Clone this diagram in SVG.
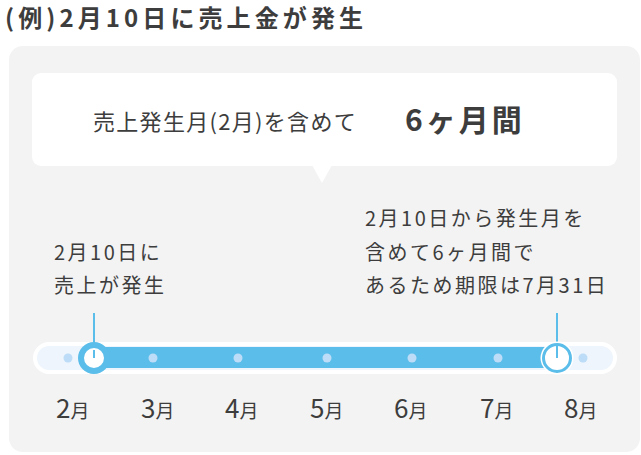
<svg xmlns="http://www.w3.org/2000/svg" width="641" height="455" viewBox="0 0 641 455">
<style>
.t{font-family:"Noto Sans CJK JP","Noto Sans",sans-serif;fill:#3d3d3d}
.note{font-size:20px;letter-spacing:2.5px}
.dig{font-size:26px}
.mo{font-size:19px}
.dot{fill:#bcdcf7}
.blue{fill:#5bbde9}
</style>
<rect width="641" height="455" fill="#ffffff"/>
<text class="t" x="5" y="27" font-size="24" font-weight="bold" letter-spacing="4.1">(例)2月10日に売上金が発生</text>
<rect x="9" y="46" width="631" height="406" rx="14" fill="#f3f3f3"/>
<g id="callout">
<rect x="32" y="73" width="585" height="93" rx="9" fill="#ffffff"/>
<polygon points="312,165 332,165 322,183" fill="#ffffff"/>
<text class="t" x="93" y="130" font-size="22" letter-spacing="1.3">売上発生月(2月)を含めて</text>
<text class="t" x="405" y="131" font-size="30" font-weight="bold" letter-spacing="3">6ヶ月間</text>
</g>
<g id="note-start">
<text class="t note" x="54" y="260">2月10日に</text>
<text class="t note" x="54" y="293">売上が発生</text>
</g>
<g id="note-end">
<text class="t note" x="365" y="226">2月10日から発生月を</text>
<text class="t note" x="365" y="260">含めて6ヶ月間で</text>
<text class="t note" x="365" y="293">あるため期限は7月31日</text>
</g>
<g id="timeline">
<rect x="35" y="344" width="580" height="28" rx="14" fill="#eef5fc" stroke="#ffffff" stroke-width="4"/>
<rect class="blue" x="93" y="347" width="464" height="21"/>
<circle class="dot" cx="68" cy="358" r="4.5"/>
<circle class="dot" cx="153" cy="358" r="4.5"/>
<circle class="dot" cx="238" cy="358" r="4.5"/>
<circle class="dot" cx="327" cy="358" r="4.5"/>
<circle class="dot" cx="412" cy="358" r="4.5"/>
<circle class="dot" cx="498" cy="358" r="4.5"/>
<circle class="dot" cx="583" cy="358" r="4.5"/>
</g>
<g id="connectors">
<line x1="94" y1="313" x2="94" y2="358" stroke="#5bbde9" stroke-width="2"/>
<line x1="557" y1="313" x2="557" y2="358" stroke="#5bbde9" stroke-width="2"/>
</g>
<g id="marker-start">
<circle cx="94" cy="358" r="13" fill="#ffffff" stroke="#5bbde9" stroke-width="6"/>
<line x1="94" y1="350" x2="94" y2="358" stroke="#5bbde9" stroke-width="2"/>
</g>
<g id="marker-end">
<circle cx="557" cy="358" r="16.5" fill="#ffffff"/>
<circle cx="557" cy="358" r="13.5" fill="#ffffff" stroke="#5bbde9" stroke-width="3"/>
<line x1="557" y1="346" x2="557" y2="358" stroke="#5bbde9" stroke-width="2"/>
</g>
<g id="months">
<text class="t" x="56" y="418"><tspan class="dig">2</tspan><tspan class="mo">月</tspan></text>
<text class="t" x="141" y="418"><tspan class="dig">3</tspan><tspan class="mo">月</tspan></text>
<text class="t" x="225" y="418"><tspan class="dig">4</tspan><tspan class="mo">月</tspan></text>
<text class="t" x="310" y="418"><tspan class="dig">5</tspan><tspan class="mo">月</tspan></text>
<text class="t" x="394" y="418"><tspan class="dig">6</tspan><tspan class="mo">月</tspan></text>
<text class="t" x="480" y="418"><tspan class="dig">7</tspan><tspan class="mo">月</tspan></text>
<text class="t" x="564" y="418"><tspan class="dig">8</tspan><tspan class="mo">月</tspan></text>
</g>
</svg>
